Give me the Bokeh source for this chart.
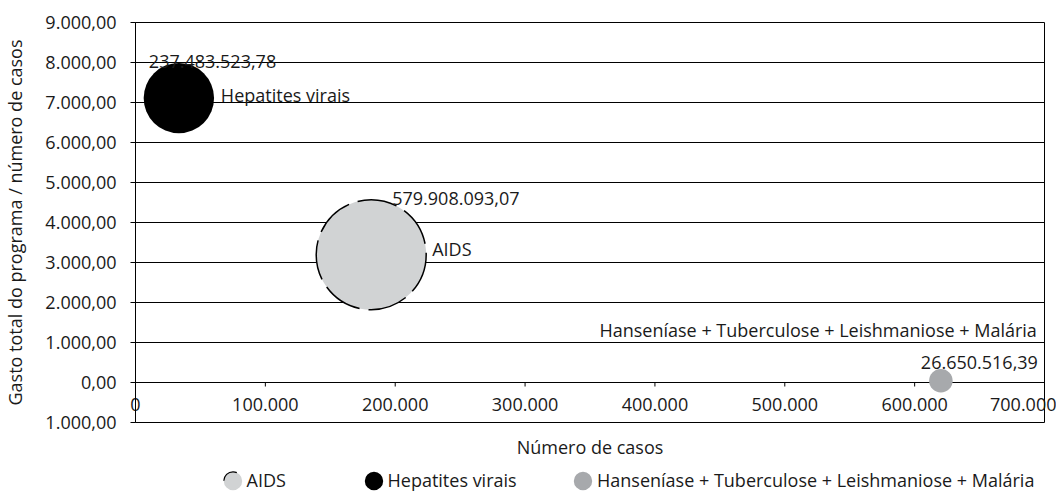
import math
from bokeh.plotting import figure
from bokeh.layouts import column
from bokeh.models import (ColumnDataSource, FixedTicker, Label, Legend,
                          LegendItem, Range1d)
from bokeh.embed import file_html
from bokeh.resources import INLINE

# ---------------- data ----------------
programas = ["AIDS", "Hepatites virais",
             "Hanseníase + Tuberculose + Leishmaniose + Malária"]
numero_casos = [181500, 33400, 620200]
gasto_por_caso = [3195, 7110, 43]
gasto_total = [579908093.07, 237483523.78, 26650516.39]
gasto_total_rotulo = ["579.908.093,07", "237.483.523,78", "26.650.516,39"]
cores = ["#d1d3d4", "#000000", "#a7a9ac"]

y_ticks = [-1000, 0, 1000, 2000, 3000, 4000, 5000, 6000, 7000, 8000, 9000]
y_tick_labels = ["1.000,00", "0,00", "1.000,00", "2.000,00", "3.000,00", "4.000,00",
                 "5.000,00", "6.000,00", "7.000,00", "8.000,00", "9.000,00"]
x_ticks = [0, 100000, 200000, 300000, 400000, 500000, 600000, 700000]
x_tick_labels = ["0", "100.000", "200.000", "300.000", "400.000", "500.000",
                 "600.000", "700.000"]

FONT = "Open Sans"
FS = "18px"
TXT = "#1a1a1a"
W = 1056
BL, BR = 133, 12

p = figure(width=W, height=462,
           x_range=Range1d(0, 700000), y_range=Range1d(-1000, 9000),
           output_backend="svg", toolbar_location=None,
           min_border_left=BL, min_border_right=BR,
           min_border_top=22, min_border_bottom=40)
p.background_fill_color = "white"
p.border_fill_color = "white"
p.outline_line_color = "black"
p.outline_line_width = 1

# y axis
p.yaxis.ticker = FixedTicker(ticks=y_ticks)
p.yaxis.major_label_overrides = {t: l for t, l in zip(y_ticks, y_tick_labels)}
p.yaxis.axis_line_color = "black"
p.yaxis.major_tick_line_color = "black"
p.yaxis.major_tick_out = 5
p.yaxis.major_tick_in = 0
p.yaxis.minor_tick_line_color = None
p.yaxis.major_label_standoff = 14
p.yaxis.major_label_text_font = FONT
p.yaxis.major_label_text_font_size = FS
p.yaxis.major_label_text_color = TXT
p.yaxis.axis_label = "Gasto total do programa / número de casos"
p.yaxis.axis_label_text_font = FONT
p.yaxis.axis_label_text_font_size = FS
p.yaxis.axis_label_text_font_style = "normal"
p.yaxis.axis_label_text_color = TXT
p.yaxis.axis_label_standoff = 15

p.ygrid.grid_line_color = "black"
p.ygrid.grid_line_width = 1
p.xgrid.visible = False

# x axis: labels pulled up so they sit just under the zero line
p.xaxis.ticker = FixedTicker(ticks=x_ticks)
p.xaxis.major_label_overrides = {t: l for t, l in zip(x_ticks, x_tick_labels)}
p.xaxis.axis_line_color = None
p.xaxis.major_tick_line_color = None
p.xaxis.major_tick_out = 0
p.xaxis.major_tick_in = 0
p.xaxis.minor_tick_line_color = None
p.xaxis.major_label_standoff = -25
p.xaxis.major_label_text_font = FONT
p.xaxis.major_label_text_font_size = FS
p.xaxis.major_label_text_color = TXT
p.xaxis.axis_label = "Número de casos"
p.xaxis.axis_label_text_font = FONT
p.xaxis.axis_label_text_font_size = FS
p.xaxis.axis_label_text_font_style = "normal"
p.xaxis.axis_label_text_color = TXT
p.xaxis.axis_label_standoff = 21

# x ticks on the zero line
p.segment(x0=x_ticks, y0=[0] * len(x_ticks), x1=x_ticks, y1=[-100] * len(x_ticks),
          line_color="black", line_width=1)

# bubbles (area proportional to total spending)
gmax = max(gasto_total)
for i in range(len(programas)):
    d = 110 * math.sqrt(gasto_total[i] / gmax)
    src = ColumnDataSource(dict(x=[numero_casos[i]], y=[gasto_por_caso[i]], s=[d]))
    if i == 0:
        p.scatter("x", "y", size="s", source=src, marker="circle",
                  fill_color=cores[i], line_color="black", line_width=1.5,
                  line_dash="40 9")
    else:
        p.scatter("x", "y", size="s", source=src, marker="circle",
                  fill_color=cores[i], line_color=None)

# data labels (offsets in screen px from bubble centres)
lab_spec = [
    (0, gasto_total_rotulo[0], 21, 56, "left"),
    (0, programas[0], 61, 6, "left"),
    (1, gasto_total_rotulo[1], -30, 37, "left"),
    (1, programas[1], 42, 3, "left"),
    (2, programas[2], 96, 51, "right"),
    (2, gasto_total_rotulo[2], 97, 18, "right"),
]
for i, t, dx, dy, al in lab_spec:
    p.add_layout(Label(x=numero_casos[i], y=gasto_por_caso[i], text=t,
                       x_offset=dx, y_offset=dy, text_align=al,
                       text_baseline="alphabetic", text_font=FONT,
                       text_font_size=FS, text_color=TXT))

# ---------------- legend strip ----------------
leg = figure(width=W, height=29, x_range=Range1d(0, 1), y_range=Range1d(0, 1),
             output_backend="svg", toolbar_location=None,
             x_axis_location=None, y_axis_location=None,
             min_border_left=BL, min_border_right=BR,
             min_border_top=0, min_border_bottom=0)
leg.grid.visible = False
leg.outline_line_color = None
leg.background_fill_color = "white"
leg.border_fill_color = "white"

dummies = []
for i in range(len(programas)):
    src = ColumnDataSource(dict(x=[-5], y=[-5]))
    if i == 0:
        r = leg.ellipse("x", "y", width=18, height=18, width_units="screen",
                        height_units="screen", source=src, fill_color=cores[i],
                        line_color="black", line_width=1.2, line_dash="18 40",
                        line_dash_offset=29)
    else:
        r = leg.ellipse("x", "y", width=18, height=18, width_units="screen",
                        height_units="screen", source=src, fill_color=cores[i],
                        line_color=None)
    dummies.append(r)

leg_x = [230 - 11.5 - BL, 371 - 11.5 - BL, 580.5 - 11.5 - BL]
for i in range(len(programas)):
    lg = Legend(items=[LegendItem(label=programas[i], renderers=[dummies[i]])],
                location=(leg_x[i], -1), orientation="horizontal",
                glyph_width=23, glyph_height=23, label_standoff=3,
                padding=0, margin=0, spacing=0,
                border_line_color=None, background_fill_alpha=0,
                label_text_font=FONT, label_text_font_size=FS, label_text_color=TXT)
    leg.add_layout(lg, "center")

layout = column(p, leg, spacing=0)
open("out.html", "w").write(file_html(layout, INLINE))
